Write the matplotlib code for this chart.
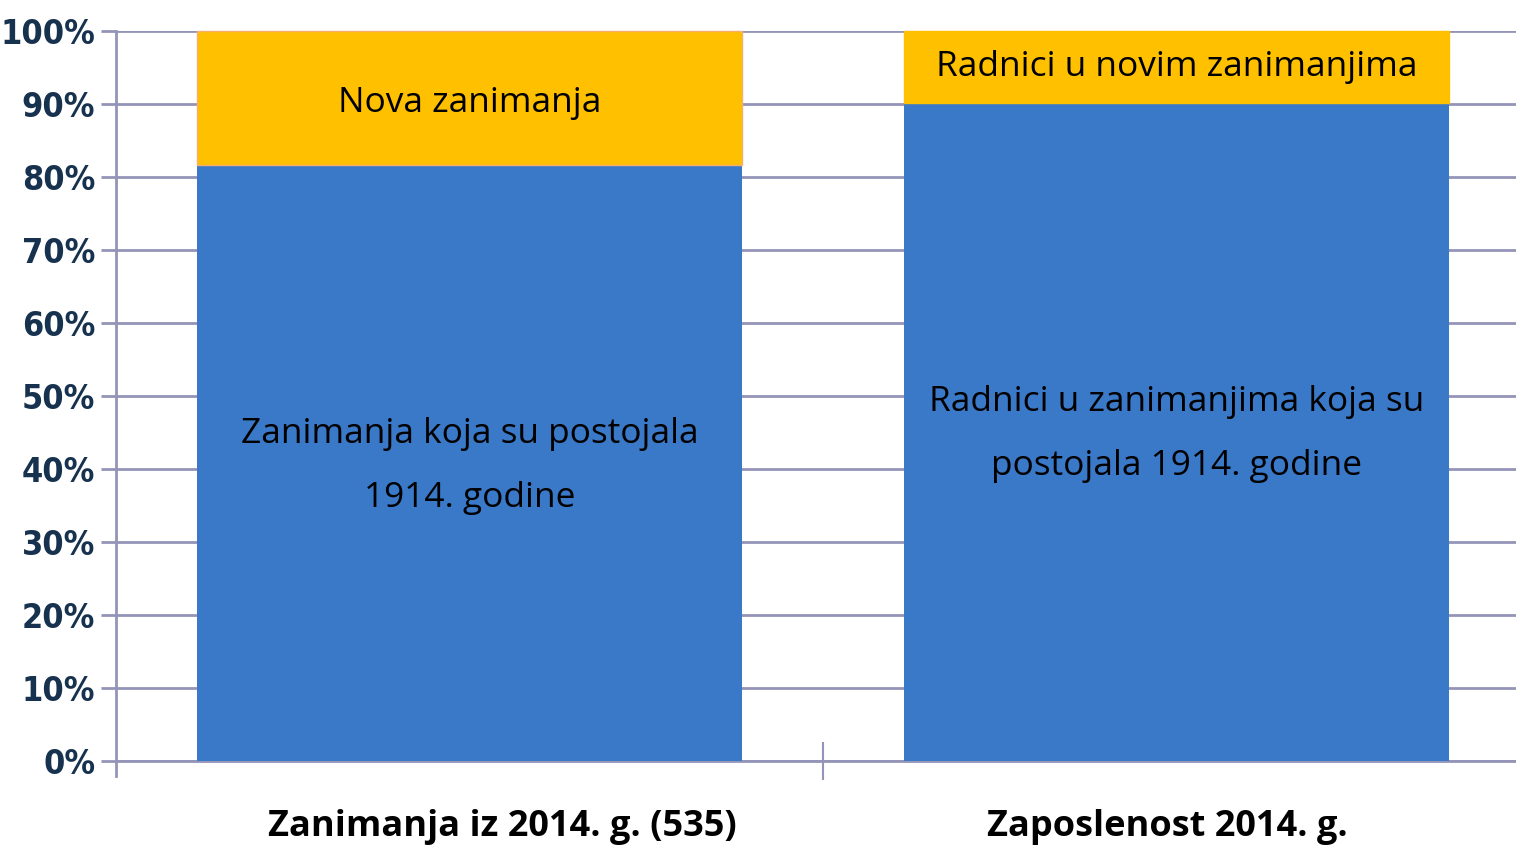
import matplotlib
matplotlib.use("Agg")
import matplotlib.pyplot as plt
import matplotlib.transforms as mtransforms
from matplotlib.ticker import FuncFormatter

# shares of occupations / employment (percent)
categories = ["Zanimanja iz 2014. g. (535)", "Zaposlenost 2014. g."]
existing_1914 = [81.7, 90.2]
new_jobs = [18.3, 9.8]
existing_labels = ["Zanimanja koja su postojala\n1914. godine",
                   "Radnici u zanimanjima koja su\npostojala 1914. godine"]
new_labels = ["Nova zanimanja", "Radnici u novim zanimanjima"]
yticks = list(range(0, 101, 10))

blue = "#3a78c8"
yellow = "#ffc000"
grid_color = "#9494b8"
navy = "#17324f"

fig = plt.figure(figsize=(15.16, 8.46), dpi=100)
ax = fig.add_axes([116 / 1516, 1 - 761 / 846, 1 - 116 / 1516, (761 - 31) / 846])

x = [0, 1.0]
width = 0.77
ax.bar(x, existing_1914, width=width, color=blue, zorder=3)
ax.bar(x, new_jobs, width=width, bottom=existing_1914, color=yellow,
       edgecolor=["#f5b070", yellow], linewidth=1, zorder=3, clip_on=False)

# label heights inside the bars
new_label_y = [90.2, 95.0]
old_label_y = [40.4, 44.8]

text_font = dict(family=["Open Sans", "DejaVu Sans"], fontsize=25.4, color="black")
for xi, yi, txt in zip(x, new_label_y, new_labels):
    ax.text(xi, yi, txt, ha="center", va="center", zorder=4, **text_font)
for xi, yi, txt in zip(x, old_label_y, existing_labels):
    ax.text(xi, yi, txt, ha="center", va="center", linespacing=2.15,
            zorder=4, **text_font)

ax.set_ylim(0, 100)
ax.set_xlim(-0.5, 1.48)
ax.set_yticks(yticks)
ax.yaxis.set_major_formatter(FuncFormatter(lambda v, pos: f"{int(v)}%"))
ax.yaxis.grid(True, color=grid_color, linewidth=2, zorder=0)
ax.tick_params(axis="y", length=11, width=2, color=grid_color, pad=4,
               labelsize=24.5, labelcolor=navy)
for lab in ax.get_yticklabels():
    lab.set_family(["DejaVu Sans"])
    lab.set_fontweight("bold")
    lab.set_fontstretch("condensed")

# category divider tick on the x axis
ax.set_xticks([0.5])
ax.set_xticklabels([""])
ax.tick_params(axis="x", direction="inout", length=28, width=1.5, color=grid_color)

trans = mtransforms.blended_transform_factory(ax.transData, ax.transAxes)
for xc, name in zip([0.046, 0.987], categories):
    ax.text(xc, -0.09, name, transform=trans, ha="center", va="center",
            fontsize=26, fontweight="bold", family=["Open Sans", "DejaVu Sans"])

for side in ["top", "right"]:
    ax.spines[side].set_visible(False)
ax.spines["left"].set_color(grid_color)
ax.spines["left"].set_linewidth(2)
ax.spines["left"].set_bounds(-2, 100)
ax.spines["bottom"].set_color(grid_color)
ax.spines["bottom"].set_linewidth(2)
ax.spines["left"].set_zorder(5)

fig.savefig("out.png", dpi=100)
